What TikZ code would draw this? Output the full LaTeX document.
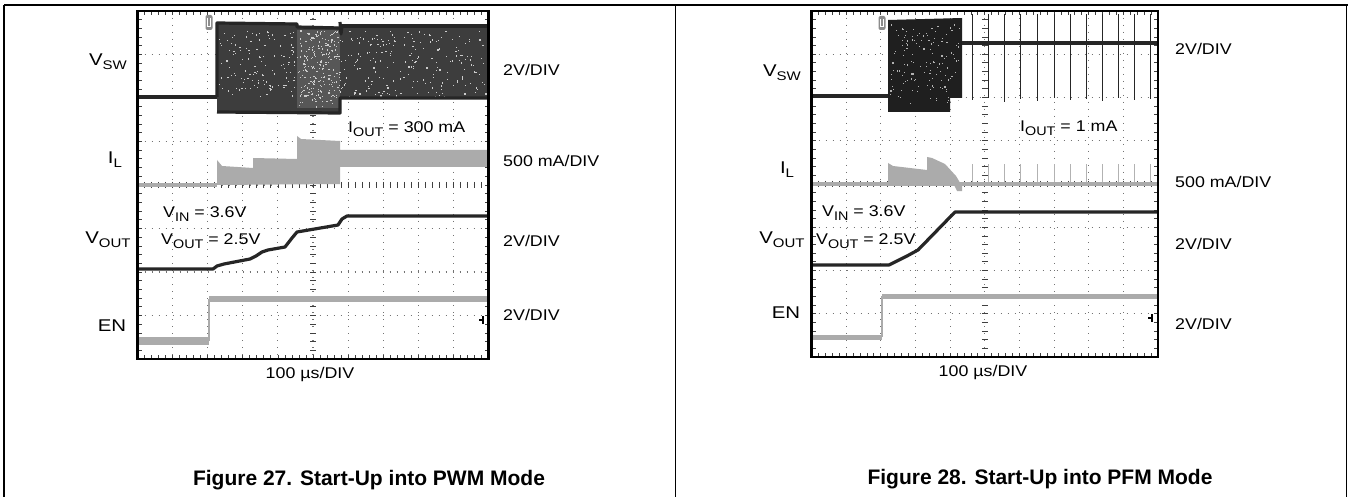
\documentclass[tikz,border=0pt]{standalone}
\usepackage{fontspec}
\setmainfont{Liberation Sans}
\newfontfamily\lblfont[FakeStretch=1.15]{Liberation Sans}
\newfontfamily\sidefont[FakeStretch=1.2]{Liberation Sans}
\newcommand{\sbs}[1]{{\fontsize{12.5}{12.5}\selectfont\raisebox{-4pt}{#1}}}
\newcommand{\scopegridA}[4]{%
  \foreach \i in {1,...,9}{\draw[gridln] ({#1+\i*(#3/10)},#2) -- ({#1+\i*(#3/10)},{#2+#4});}
  \foreach \j in {1,...,7}{\draw[gridln] (#1,{#2+\j*(#4/8)}) -- ({#1+#3},{#2+\j*(#4/8)});}
  \foreach \k in {1,...,49}{%
    \draw[tickln] ({#1+\k*(#3/50)},#2) -- ++(0,4);
    \draw[tickln] ({#1+\k*(#3/50)},{#2+#4}) -- ++(0,-4);
    \draw[tickln] ({#1+\k*(#3/50)},{#2+#4/2-3}) -- ++(0,6);}
  \foreach \k in {1,...,39}{%
    \draw[tickln] (#1,{#2+\k*(#4/40)}) -- ++(4,0);
    \draw[tickln] ({#1+#3},{#2+\k*(#4/40)}) -- ++(-4,0);
    \draw[tickln] ({#1+#3/2-3},{#2+\k*(#4/40)}) -- ++(6,0);}
}
\begin{document}
\begin{tikzpicture}[x=1pt,y=-1pt,
  lbl/.style={font=\lblfont\fontsize{15.5}{15.5}\selectfont, inner sep=0pt},
  lblw/.style={lbl, anchor=west},
  side/.style={font=\sidefont\fontsize{17}{17}\selectfont, inner sep=0pt},
  capt/.style={font=\fontsize{21}{21}\selectfont\bfseries, inner sep=0pt},
  gridln/.style={draw=black!55, line width=1.1pt, dash pattern=on 1.1pt off 5.9pt},
  tickln/.style={draw=black!75, line width=0.8pt},
  frm/.style={draw=black, line width=2.2pt},
  border/.style={draw=black, line width=1.3pt},
  blk/.style={draw=black!85, line width=3.2pt, line join=round},
  gry/.style={draw=black!33, line width=4pt},
  gryfill/.style={fill=black!33},
  vswfill/.style={fill=black!76},
  spk/.style={draw=black!85, line width=1pt},
  gspk/.style={draw=black!30, line width=1pt},
  trig/.style={fill=black!45, rounded corners=2pt},
  speck/.style={fill=white!80!black},
]
\useasboundingbox (0,0) rectangle (1348,497);
\fill[white] (0,0) rectangle (1348,497);
% panel borders
\draw[border] (4,5) -- (1348,5);
\draw[border] (4,5) -- (4,497);
\draw[border] (675.5,5) -- (675.5,497);
\draw[border] (1346.5,5) -- (1346.5,497);

% ================= LEFT SCOPE =================
\scopegridA{137.5}{11}{351}{348}
% V_SW
\draw[blk] (137.5,97) -- (217,97);
\fill[vswfill] (217,23) -- (297,23) -- (297,27) -- (340,27) -- (340,25) -- (488.5,25) -- (488.5,98) -- (340,98) -- (340,112) -- (217,112) -- cycle;
\fill[black!66] (297,30) rectangle (340,108);
\pgfmathsetseed{7}
\foreach \k in {1,...,420}{%
  \pgfmathsetmacro\xx{219+rnd*267}
  \pgfmathsetmacro\yy{30+rnd*66}
  \fill[speck] (\xx,\yy) rectangle ++(1.2,1.2);}
\foreach \k in {1,...,160}{%
  \pgfmathsetmacro\xx{298+rnd*41}
  \pgfmathsetmacro\yy{31+rnd*76}
  \fill[speck] (\xx,\yy) rectangle ++(1.2,1.2);}
\draw[blk] (217,97) -- (217,23) -- (297,24) -- (297,27) -- (340,28);
\draw[blk] (340,26) -- (488,26);
\draw[blk] (340,22) -- (341,34) -- (342,26);
\draw[blk] (217,112) -- (340,113) -- (340,98) -- (488,98);
\fill[trig] (205.5,15) rectangle (212.5,30);
\draw[white, line width=0.8pt] (207.5,18) -- (207.5,26) -- (210.5,26) -- (210.5,18);
% I_L
\draw[gry] (137.5,185) -- (217,185);
\fill[gryfill] (217,185) -- (217,160) -- (222,166) -- (253,168) -- (253,158) -- (297,159) -- (297,136) -- (301,139) -- (340,141) -- (340,150) -- (488.5,150) -- (488.5,167) -- (340,167) -- (340,184) -- cycle;
% V_OUT
\draw[blk] (137.5,269) -- (213,269) -- (217,266) -- (224,264) -- (250,259) -- (256,256) -- (262,252) -- (268,250) -- (285,247) -- (292,238) -- (297,232) -- (338,225) -- (342,219) -- (347,216) -- (488,216);
% EN
\draw[gry, line width=8pt] (137.5,341) -- (209,341);
\draw[gry, line width=2pt] (209,341) -- (209,299);
\draw[gry, line width=5.5pt] (209,299) -- (488,299);
\draw[black, line width=1.3pt] (483,316) -- (483,324);
\draw[black, line width=1.3pt] (479,320) -- (483,320);
\draw[frm] (137.5,11) rectangle (488.5,359);
% labels
\node[side] (lvsw) at (108,62) {V\sbs{SW}};
\node[lblw] (lsw2v) at (503,70) {2V/DIV};
\node[lblw] (liout) at (348,129) {I\sbs{OUT} = 300 mA};
\node[side] (lil) at (115,160) {I\sbs{L}};
\node[lblw] (lil5) at (503,161) {500 mA/DIV};
\node[lblw] (lvin) at (163,214) {V\sbs{IN} = 3.6V};
\node[side] (lvout) at (108,240) {V\sbs{OUT}};
\node[lblw] (lvoutv) at (161,241) {V\sbs{OUT} = 2.5V};
\node[lblw] (lvo2v) at (503,241) {2V/DIV};
\node[side] (len) at (112,326) {EN};
\node[lblw] (len2v) at (503,315) {2V/DIV};
\node[lbl] (ltime) at (310,374) {100 µs/DIV};
\node[capt] (lcap) at (369,480) {Figure 27. Start-Up into PWM Mode};

% ================= RIGHT SCOPE =================
\scopegridA{811.5}{11}{346.5}{346}
% V_SW
\draw[blk] (811.5,96) -- (888,96);
\fill[black!88] (888,20) -- (962,18) -- (962,98) -- (950,98) -- (950,112) -- (888,112) -- cycle;
\pgfmathsetseed{11}
\foreach \k in {1,...,140}{%
  \pgfmathsetmacro\xx{890+rnd*70}
  \pgfmathsetmacro\yy{24+rnd*80}
  \fill[white!70!black] (\xx,\yy) rectangle ++(1.1,1.1);}
\draw[blk] (962,43) -- (1158,43);
\foreach \xs/\yb in {972/100,988/98,1004/102,1020/99,1037/101,1054/98,1070/100,1086/99,1102/101,1118/98,1134/100,1150/99}{%
  \draw[spk] (\xs,14) -- (\xs,\yb);
  \draw[gspk] (\xs,184) -- (\xs,164);}
\fill[trig] (878.5,16) rectangle (885.5,30);
\draw[white, line width=0.8pt] (880.5,19) -- (880.5,26) -- (883.5,26) -- (883.5,19);
% I_L
\draw[gry] (811.5,184) -- (1158,184);
\fill[gryfill] (888,185) -- (888,163) -- (893,166) -- (927,170) -- (927,157) -- (932,158) -- (945,164) -- (956,176) -- (962,186) -- (962,191) -- (957,191) -- (954,185) -- cycle;
% V_OUT
\draw[blk] (811.5,265) -- (889,265) -- (897,261) -- (907,256) -- (918,250) -- (955,212) -- (1158,212);
% EN
\draw[gry, line width=5pt] (811.5,337) -- (882,337);
\draw[gry, line width=1.5pt] (882,337) -- (882,296);
\draw[gry, line width=5pt] (882,296) -- (1158,296);
\draw[black, line width=1.3pt] (1152,314) -- (1152,322);
\draw[black, line width=1.3pt] (1148,318) -- (1152,318);
\draw[frm] (811.5,11) rectangle (1158,357);
% labels
\node[side] (rvsw) at (782,73) {V\sbs{SW}};
\node[lblw] (rsw2v) at (1175,49) {2V/DIV};
\node[lblw] (riout) at (1020,128) {I\sbs{OUT} = 1 mA};
\node[side] (ril) at (787,170) {I\sbs{L}};
\node[lblw] (ril5) at (1175,182) {500 mA/DIV};
\node[lblw] (rvin) at (822,213) {V\sbs{IN} = 3.6V};
\node[side] (rvout) at (782,240) {V\sbs{OUT}};
\node[lblw] (rvoutv) at (816,241) {V\sbs{OUT} = 2.5V};
\node[lblw] (rvo2v) at (1175,244) {2V/DIV};
\node[side] (ren) at (786,313) {EN};
\node[lblw] (ren2v) at (1175,324) {2V/DIV};
\node[lbl] (rtime) at (983,372) {100 µs/DIV};
\node[capt] (rcap) at (1040,479) {Figure 28. Start-Up into PFM Mode};
\end{tikzpicture}
\end{document}
